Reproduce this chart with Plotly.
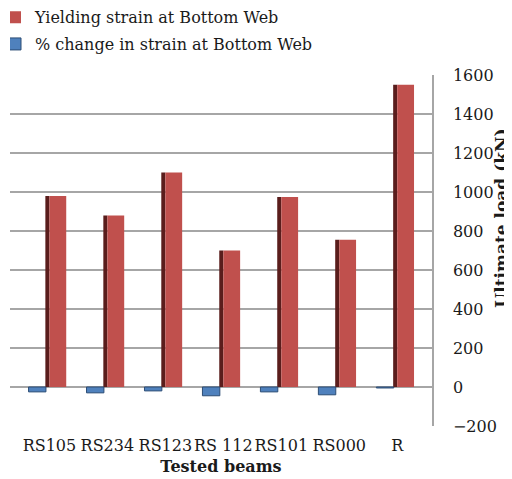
import plotly.graph_objects as go

categories = ["RS105", "RS234", "RS123", "RS 112", "RS101", "RS000", "R"]
yield_strain = [980, 880, 1100, 700, 975, 755, 1550]
pct_change = [-25, -30, -20, -45, -25, -40, -5]
y_ticks = [-200, 0, 200, 400, 600, 800, 1000, 1200, 1400, 1600]

FONT = "DejaVu Serif"

fig = go.Figure()
# side face of red bars (3D look)
fig.add_trace(go.Bar(x=categories, y=yield_strain, offset=-0.07, width=0.07,
                     marker=dict(color="#5a1d1c", line=dict(width=0)),
                     showlegend=False, hoverinfo="skip", legendgroup="a"))
fig.add_trace(go.Bar(x=categories, y=yield_strain, offset=0.0, width=0.29,
                     name="Yielding strain at Bottom Web", legendgroup="a",
                     marker=dict(color="#c0504d", line=dict(width=0))))
fig.add_trace(go.Bar(x=categories, y=pct_change, offset=-0.36, width=0.3,
                     name="% change in strain at Bottom Web", legendgroup="b",
                     marker=dict(color="#4f81bd", line=dict(color="#2c4d75", width=1))))

fig.update_layout(
    width=504, height=471,
    barmode="overlay",
    plot_bgcolor="white", paper_bgcolor="white",
    margin=dict(l=2, r=80, t=67, b=53, autoexpand=False),
    font=dict(family=FONT, size=15, color="#1a1a1a"),
    legend=dict(x=0.0, y=1.213, xanchor="left", yanchor="top",
                font=dict(family=FONT, size=16, color="#1a1a1a"),
                bgcolor="rgba(0,0,0,0)", traceorder="grouped", tracegroupgap=3,
                itemwidth=30, indentation=-15),
    xaxis=dict(range=[-0.68, 6.6], showgrid=False, showline=False, ticks="",
               tickangle=0, tickfont=dict(family=FONT, size=16), ticklabelstandoff=8,
               title=dict(text="<b>Tested beams</b>", font=dict(family=FONT, size=16), standoff=6)),
    yaxis=dict(side="right", range=[-200, 1600], tickvals=y_ticks,
               showgrid=True, gridcolor="#a6a6a6", gridwidth=1.5,
               zeroline=True, zerolinecolor="#a6a6a6", zerolinewidth=1.5,
               showline=True, linecolor="#a6a6a6", linewidth=1.5,
               ticks="", ticklabelstandoff=16,
               tickfont=dict(family=FONT, size=16)),
    annotations=[dict(text="<b>Ultimate load (kN)</b>", xref="paper", yref="paper",
                      x=1.163, y=0.593, xanchor="center", yanchor="middle",
                      textangle=-90, showarrow=False,
                      font=dict(family=FONT, size=17, color="#1a1a1a"))],
)

fig.write_html("out.html")
